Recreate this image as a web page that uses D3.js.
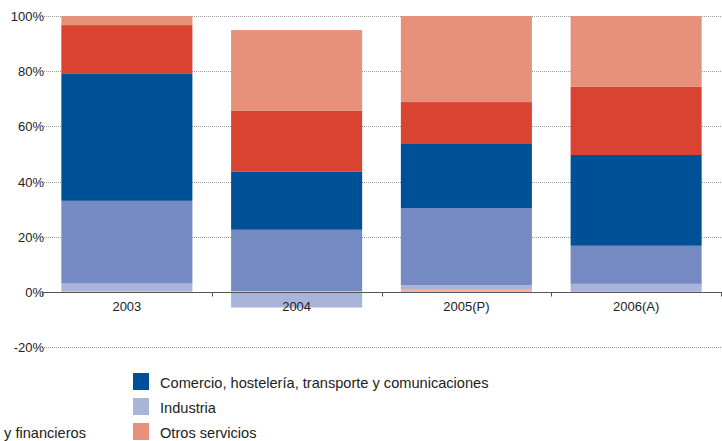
<!DOCTYPE html>
<html>
<head>
<meta charset="utf-8">
<script src="https://cdn.jsdelivr.net/npm/d3@7"></script>
<style>
  body { margin: 0; background: #fff; }
  svg { display: block; font-family: "Liberation Sans", Arial, sans-serif; }
</style>
</head>
<body>
<div id="chart"></div>
<script>
var years = ["2003", "2004", "2005(P)", "2006(A)"];
var seriesNames = ["Agricultura", "Industria", "Construcción",
  "Comercio, hostelería, transporte y comunicaciones",
  "Servicios empresariales, inmobiliarios y financieros", "Otros servicios"];
var seriesColors = ["#F2AE95", "#A9B4DB", "#7589C2", "#005097", "#D94331", "#E8917A"];
// values in % per year, same order as years
var agricultura = [0.3, 0.3, 1.0, 0.0];
var industria = [2.7, -5.7, 1.4, 2.9];
var construccion = [30.0, 22.2, 28.0, 13.8];
var comercio = [46.0, 21.0, 23.2, 32.9];
var financieros = [17.7, 22.1, 15.2, 24.7];
var otros = [3.3, 29.3, 31.2, 25.7];
var yTicks = [-20, 0, 20, 40, 60, 80, 100];

// legend layout: left column then right column
var legendLeft = ["Agricultura", "Construcción", "Servicios empresariales, inmobiliarios y financieros"];
var legendRight = ["Comercio, hostelería, transporte y comunicaciones", "Industria", "Otros servicios"];

var width = 722, height = 441;
var plotLeft = 42, plotRight = 721, plotTop = 16, plotBottom = 347;

var svg = d3.select("#chart").append("svg")
  .attr("width", width).attr("height", height);

var allSeries = [agricultura, industria, construccion, comercio, financieros, otros];
var table = years.map(function(y, i) {
  var row = { year: y };
  seriesNames.forEach(function(s, j) { row[s] = allSeries[j][i]; });
  return row;
});

var stacked = d3.stack().keys(seriesNames).offset(d3.stackOffsetDiverging)(table);

var x = d3.scaleBand().domain(years).range([plotLeft, plotRight])
  .paddingInner(0.228).paddingOuter(0.114);
var y = d3.scaleLinear().domain([-20, 100]).range([plotBottom, plotTop]);
var color = d3.scaleOrdinal().domain(seriesNames).range(seriesColors);

// dotted grid
svg.append("g").selectAll("line")
  .data(yTicks.filter(function(d) { return d !== 0; }))
  .enter().append("line")
  .attr("x1", plotLeft).attr("x2", width)
  .attr("y1", function(d) { return Math.round(y(d)) + 0.5; })
  .attr("y2", function(d) { return Math.round(y(d)) + 0.5; })
  .attr("stroke", "#9a9a9a").attr("stroke-width", 1)
  .attr("stroke-dasharray", "1,1");

// bars
svg.append("g").selectAll("g")
  .data(stacked).enter().append("g")
  .attr("fill", function(d) { return color(d.key); })
  .selectAll("rect")
  .data(function(d) { return d; })
  .enter().append("rect")
  .attr("x", function(d) { return x(d.data.year); })
  .attr("width", x.bandwidth())
  .attr("y", function(d) { return y(Math.max(d[0], d[1])); })
  .attr("height", function(d) { return Math.abs(y(d[0]) - y(d[1])); });

// y labels
svg.append("g").selectAll("text")
  .data(yTicks).enter().append("text")
  .attr("x", plotLeft + 2).attr("y", function(d) { return y(d) + 5; })
  .attr("text-anchor", "end")
  .attr("font-size", 13).attr("fill", "#222")
  .text(function(d) { return d + "%"; });

// zero axis
var y0 = Math.round(y(0)) + 0.5;
svg.append("line")
  .attr("x1", plotLeft).attr("x2", width)
  .attr("y1", y0).attr("y2", y0)
  .attr("stroke", "#555").attr("stroke-width", 1);
var bounds = d3.range(years.length + 1).map(function(i) { return plotLeft + i * x.step(); });
svg.append("g").selectAll("line")
  .data(bounds).enter().append("line")
  .attr("x1", function(d) { return Math.round(d) + 0.5; })
  .attr("x2", function(d) { return Math.round(d) + 0.5; })
  .attr("y1", y0).attr("y2", y0 + 4)
  .attr("stroke", "#555");

// category labels
svg.append("g").selectAll("text")
  .data(years).enter().append("text")
  .attr("x", function(d) { return x(d) + x.bandwidth() / 2; })
  .attr("y", y0 + 18)
  .attr("text-anchor", "middle")
  .attr("font-size", 13).attr("fill", "#222")
  .text(function(d) { return d; });

// legend
var legend = svg.append("g");
function legendItem(name, lx, i) {
  legend.append("rect")
    .attr("x", lx).attr("y", 373 + i * 25)
    .attr("width", 16).attr("height", 17)
    .attr("fill", color(name));
  return legend.append("text")
    .attr("x", lx + 27).attr("y", 388 + i * 25)
    .attr("font-size", 14.6).attr("fill", "#222")
    .text(name);
}
legendRight.forEach(function(n, i) { legendItem(n, 133, i); });
// left column is cut off by the page edge; its longest label ends near x=86
var probe = svg.append("text").attr("font-size", 14.6).text(legendLeft[2]);
var len = probe.node().getComputedTextLength();
probe.remove();
legendLeft.forEach(function(n, i) { legendItem(n, 86 - len - 27, i); });
</script>
</body>
</html>
